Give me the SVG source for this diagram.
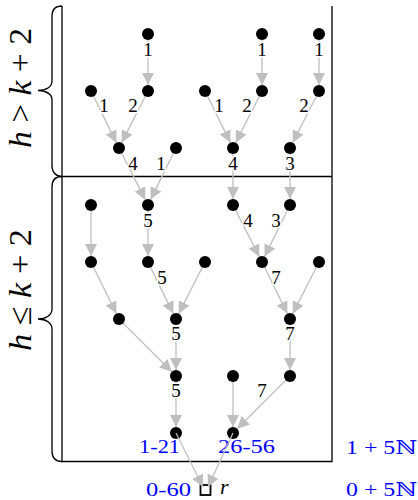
<svg xmlns="http://www.w3.org/2000/svg" width="418" height="500" viewBox="0 0 418 500">
<defs>
<marker id="ah" markerUnits="userSpaceOnUse" markerWidth="12" markerHeight="12" refX="12" refY="6" orient="auto" viewBox="0 0 12 12">
<path d="M0,0 L12,6 L0,12 z" fill="#bfbfbf"/>
</marker>
</defs>
<style>
.frame{fill:none;stroke:#000;stroke-width:1.3}
.e{stroke:#bfbfbf;stroke-width:1.3;fill:none;marker-end:url(#ah)}
.n{fill:#000}
.lbl{font-family:"Liberation Serif","DejaVu Serif",serif;font-size:19px;fill:#000;text-anchor:middle;stroke:#fff;stroke-width:3;paint-order:stroke;stroke-linejoin:round}
.blue{font-family:"Liberation Serif","DejaVu Serif",serif;font-size:19px;fill:#0000ff}
.side{font-family:"Liberation Serif","DejaVu Serif",serif;font-size:32px;fill:#000;text-anchor:middle}
.it{font-style:italic}
</style>
<rect width="418" height="500" fill="#fff"/>
<g id="frame">
<path class="frame" d="M62,6 L62,461.5 L332,461.5 L332,6 M62,176.5 L332,176.5"/>
<path class="frame" d="M62,6 C56,6 52,9 52,16 L52,81 C52,87 46,90.5 38,90.5 C46,91 52,94 52,100 L52,166 C52,172 56,176.5 62,176.5"/>
<path class="frame" d="M62,176.5 C56,176.5 52,180 52,187 L52,309 C52,315 46,319 38,319 C46,319 52,323 52,329 L52,451 C52,458 56,461.5 62,461.5"/>
<text class="side" x="31" y="88" transform="rotate(-90 31 88)" textLength="120" lengthAdjust="spacingAndGlyphs"><tspan class="it">h</tspan> &gt; <tspan class="it">k</tspan> + 2</text>
<text class="side" x="31" y="290" transform="rotate(-90 31 290)" textLength="122" lengthAdjust="spacingAndGlyphs"><tspan class="it">h</tspan> ≤ <tspan class="it">k</tspan> + 2</text>
</g>
<g id="connectors">
<line class="e" x1="148" y1="34" x2="148" y2="85"/>
<line class="e" x1="91" y1="91" x2="116.35" y2="142.61"/>
<line class="e" x1="148" y1="91" x2="121.72" y2="142.65"/>
<line class="e" x1="119" y1="148" x2="145.28" y2="199.65"/>
<line class="e" x1="176" y1="148" x2="150.65" y2="199.61"/>
<line class="e" x1="262" y1="34" x2="262" y2="85"/>
<line class="e" x1="205" y1="91" x2="230.35" y2="142.61"/>
<line class="e" x1="262" y1="91" x2="235.72" y2="142.65"/>
<line class="e" x1="319" y1="34" x2="319" y2="85"/>
<line class="e" x1="319" y1="91" x2="292.72" y2="142.65"/>
<line class="e" x1="233" y1="148" x2="233" y2="199"/>
<line class="e" x1="290" y1="148" x2="290" y2="199"/>
<line class="e" x1="91" y1="205" x2="91" y2="256"/>
<line class="e" x1="148" y1="205" x2="148" y2="256"/>
<line class="e" x1="233" y1="205" x2="259.28" y2="256.65"/>
<line class="e" x1="290" y1="205" x2="264.65" y2="256.61"/>
<line class="e" x1="91" y1="262" x2="116.35" y2="313.61"/>
<line class="e" x1="148" y1="262" x2="173.35" y2="313.61"/>
<line class="e" x1="205" y1="262" x2="178.72" y2="313.65"/>
<line class="e" x1="262" y1="262" x2="287.35" y2="313.61"/>
<line class="e" x1="319" y1="262" x2="292.72" y2="313.65"/>
<line class="e" x1="119" y1="319" x2="171.76" y2="371.76"/>
<line class="e" x1="176" y1="319" x2="176" y2="370"/>
<line class="e" x1="290" y1="319" x2="290" y2="370"/>
<line class="e" x1="176" y1="376" x2="176" y2="427"/>
<line class="e" x1="233" y1="376" x2="233" y2="427"/>
<line class="e" x1="290" y1="376" x2="237.24" y2="428.76"/>
<g id="edge-labels">
<text class="lbl" x="148" y="55.5">1</text>
<text class="lbl" x="262" y="55.5">1</text>
<text class="lbl" x="319" y="55.5">1</text>
<text class="lbl" x="104" y="112">1</text>
<text class="lbl" x="133" y="112">2</text>
<text class="lbl" x="219" y="112">1</text>
<text class="lbl" x="247" y="112">2</text>
<text class="lbl" x="304" y="112">2</text>
<text class="lbl" x="133" y="169.5">4</text>
<text class="lbl" x="161" y="169.5">1</text>
<text class="lbl" x="233" y="169.5">4</text>
<text class="lbl" x="290" y="169.5">3</text>
<text class="lbl" x="148" y="226.5">5</text>
<text class="lbl" x="248" y="226.5">4</text>
<text class="lbl" x="276" y="226.5">3</text>
<text class="lbl" x="162" y="283.5">5</text>
<text class="lbl" x="276" y="283.5">7</text>
<text class="lbl" x="176" y="340">5</text>
<text class="lbl" x="290" y="340">7</text>
<text class="lbl" x="176" y="397">5</text>
<text class="lbl" x="262" y="396.5">7</text>
</g>
</g>
<g id="nodes">
<g id="n1"><circle class="n" cx="148" cy="34" r="6"/></g>
<g id="n2"><circle class="n" cx="262" cy="34" r="6"/></g>
<g id="n3"><circle class="n" cx="319" cy="34" r="6"/></g>
<g id="n4"><circle class="n" cx="91" cy="91" r="6"/></g>
<g id="n5"><circle class="n" cx="148" cy="91" r="6"/></g>
<g id="n6"><circle class="n" cx="205" cy="91" r="6"/></g>
<g id="n7"><circle class="n" cx="262" cy="91" r="6"/></g>
<g id="n8"><circle class="n" cx="319" cy="91" r="6"/></g>
<g id="n9"><circle class="n" cx="119" cy="148" r="6"/></g>
<g id="n10"><circle class="n" cx="176" cy="148" r="6"/></g>
<g id="n11"><circle class="n" cx="233" cy="148" r="6"/></g>
<g id="n12"><circle class="n" cx="290" cy="148" r="6"/></g>
<g id="n13"><circle class="n" cx="91" cy="205" r="6"/></g>
<g id="n14"><circle class="n" cx="148" cy="205" r="6"/></g>
<g id="n15"><circle class="n" cx="233" cy="205" r="6"/></g>
<g id="n16"><circle class="n" cx="290" cy="205" r="6"/></g>
<g id="n17"><circle class="n" cx="91" cy="262" r="6"/></g>
<g id="n18"><circle class="n" cx="148" cy="262" r="6"/></g>
<g id="n19"><circle class="n" cx="205" cy="262" r="6"/></g>
<g id="n20"><circle class="n" cx="262" cy="262" r="6"/></g>
<g id="n21"><circle class="n" cx="319" cy="262" r="6"/></g>
<g id="n22"><circle class="n" cx="119" cy="319" r="6"/></g>
<g id="n23"><circle class="n" cx="176" cy="319" r="6"/></g>
<g id="n24"><circle class="n" cx="290" cy="319" r="6"/></g>
<g id="n25"><circle class="n" cx="176" cy="376" r="6"/></g>
<g id="n26"><circle class="n" cx="233" cy="376" r="6"/></g>
<g id="n27"><circle class="n" cx="290" cy="376" r="6"/></g>
<g id="n28"><circle class="n" cx="176" cy="433" r="6"/><text class="blue" x="139" y="453" textLength="41" lengthAdjust="spacingAndGlyphs">1-21</text></g>
<g id="n29"><circle class="n" cx="233" cy="433" r="6"/><text class="blue" x="218" y="453" textLength="57" lengthAdjust="spacingAndGlyphs">26-56</text></g>
<g id="root"><rect x="200.5" y="485" width="10" height="10" fill="#fff" stroke="#000" stroke-width="1.8"/><text class="blue" x="146" y="496" textLength="45" lengthAdjust="spacingAndGlyphs">0-60</text><text x="220" y="494" font-family="Liberation Serif, DejaVu Serif, serif" font-size="22" font-style="italic">r</text></g>
</g>
<g id="root-edges">
<line class="e" x1="176" y1="433" x2="203" y2="487"/>
<line class="e" x1="233" y1="433" x2="208" y2="487"/>
</g>
<g id="classes">
<text class="blue" x="346" y="454" textLength="71" lengthAdjust="spacingAndGlyphs">1 + 5ℕ</text>
<text class="blue" x="346" y="496" textLength="71" lengthAdjust="spacingAndGlyphs">0 + 5ℕ</text>
</g>
</svg>
